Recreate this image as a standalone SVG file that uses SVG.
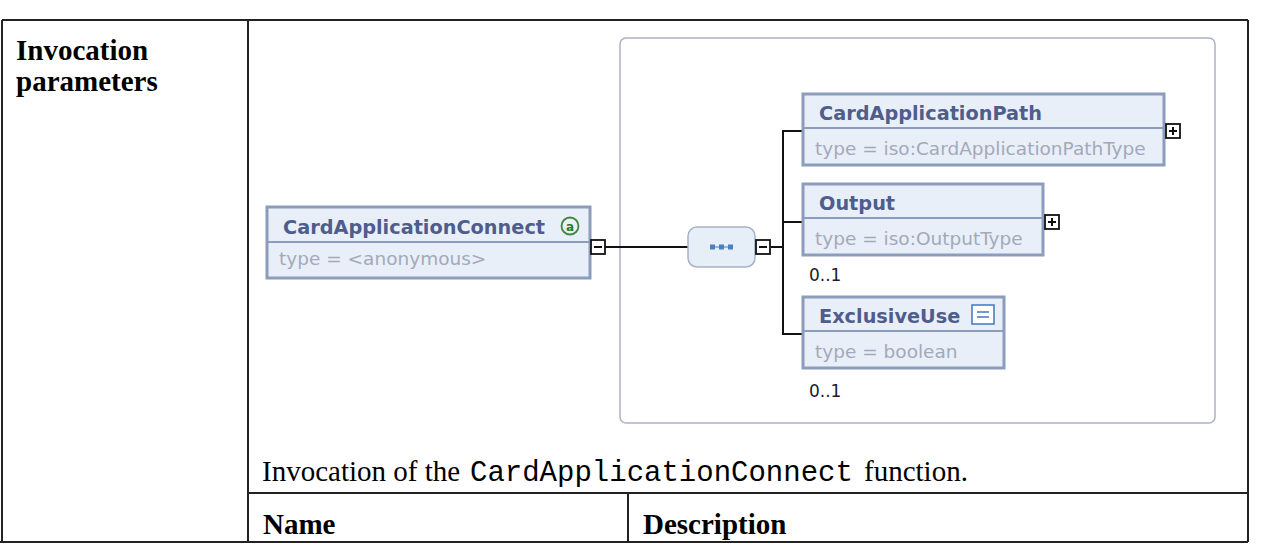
<svg xmlns="http://www.w3.org/2000/svg" width="1266" height="555" viewBox="0 0 1266 555">
<style>
.tl{stroke:#222;stroke-width:2;fill:none}
.hd{font-family:"Liberation Serif",serif;font-weight:bold;font-size:29px;fill:#000}
.tx{font-family:"Liberation Serif",serif;font-size:29px;fill:#000}
.mono{font-family:"Liberation Mono",monospace;font-size:29px;fill:#000}
.box{fill:#e9eff9;stroke:#8c9cbc;stroke-width:3}
.div{stroke:#8c9cbc;stroke-width:2}
.ttl{font-family:"DejaVu Sans",sans-serif;font-weight:bold;font-size:19.3px;fill:#4f5d8c}
.sub{font-family:"DejaVu Sans",sans-serif;font-size:18.5px;fill:#a3a9ba}
.occ{font-family:"DejaVu Sans",sans-serif;font-size:17px;fill:#1a1a2e}
.ln{stroke:#111;stroke-width:2;fill:none}
.pm{fill:#fff;stroke:#111;stroke-width:1.8}
</style>
<g id="table">
<line class="tl" x1="2" y1="20" x2="1248" y2="20"/>
<line class="tl" x1="2" y1="20" x2="2" y2="542"/>
<line class="tl" x1="248" y1="20" x2="248" y2="542"/>
<line class="tl" x1="1248" y1="20" x2="1248" y2="542"/>
<line class="tl" x1="248" y1="493" x2="1248" y2="493"/>
<line class="tl" x1="0" y1="542" x2="1248" y2="542"/>
<line class="tl" x1="628" y1="493" x2="628" y2="542"/>
<text class="hd" x="16" y="60">Invocation</text>
<text class="hd" x="16" y="91">parameters</text>
<text class="tx" x="262" y="481">Invocation of the</text>
<text class="mono" x="470" y="481">CardApplicationConnect</text>
<text class="tx" x="864" y="481">function.</text>
<text class="hd" x="263" y="534">Name</text>
<text class="hd" x="643" y="534">Description</text>
</g>
<g id="container">
<rect x="620" y="38" width="595" height="385" rx="6" fill="#fff" stroke="#aab2c8" stroke-width="1.5"/>
</g>
<g id="connectors">
<line class="ln" x1="605" y1="247" x2="688" y2="247"/>
<line class="ln" x1="771" y1="247" x2="783" y2="247"/>
<line class="ln" x1="783" y1="130" x2="783" y2="335"/>
<line class="ln" x1="783" y1="131" x2="803" y2="131"/>
<line class="ln" x1="783" y1="222" x2="803" y2="222"/>
<line class="ln" x1="783" y1="334" x2="803" y2="334"/>
</g>
<g id="node-CardApplicationConnect">
<rect class="box" x="267" y="207" width="323" height="71"/>
<line class="div" x1="268" y1="242" x2="589" y2="242"/>
<text class="ttl" x="283" y="234">CardApplicationConnect</text>
<circle cx="570" cy="226" r="8.5" fill="none" stroke="#3a8a3a" stroke-width="1.8"/>
<text x="570" y="231" text-anchor="middle" font-family="DejaVu Sans,sans-serif" font-size="12" font-weight="bold" fill="#2a7a2a">a</text>
<text class="sub" x="279" y="265">type = &lt;anonymous&gt;</text>
<rect class="pm" x="591" y="240" width="14" height="14"/>
<line class="ln" x1="594" y1="247" x2="602" y2="247"/>
</g>
<g id="node-sequence">
<rect x="688" y="227" width="67" height="40" rx="9" fill="#e6eef8" stroke="#a8b2c6" stroke-width="1.5"/>
<g fill="#4a80c0">
<rect x="710" y="244.5" width="5" height="5"/>
<rect x="719" y="244.5" width="5" height="5"/>
<rect x="728" y="244.5" width="5" height="5"/>
</g>
<line x1="715" y1="247" x2="728" y2="247" stroke="#4a80c0" stroke-width="1"/>
<rect class="pm" x="756" y="240" width="14" height="14"/>
<line class="ln" x1="759" y1="247" x2="767" y2="247"/>
</g>
<g id="node-CardApplicationPath">
<rect class="box" x="803" y="94" width="361" height="71"/>
<line class="div" x1="804" y1="128" x2="1163" y2="128"/>
<text class="ttl" x="819" y="120">CardApplicationPath</text>
<text class="sub" x="815" y="155">type = iso:CardApplicationPathType</text>
<rect class="pm" x="1166" y="124" width="14" height="14"/>
<line class="ln" x1="1169" y1="131" x2="1177" y2="131"/>
<line class="ln" x1="1173" y1="127" x2="1173" y2="135"/>
</g>
<g id="node-Output">
<rect class="box" x="803" y="184" width="240" height="71"/>
<line class="div" x1="804" y1="218" x2="1042" y2="218"/>
<text class="ttl" x="819" y="210">Output</text>
<text class="sub" x="815" y="245">type = iso:OutputType</text>
<rect class="pm" x="1045" y="215" width="14" height="14"/>
<line class="ln" x1="1048" y1="222" x2="1056" y2="222"/>
<line class="ln" x1="1052" y1="218" x2="1052" y2="226"/>
<text class="occ" x="809" y="281">0..1</text>
</g>
<g id="node-ExclusiveUse">
<rect class="box" x="803" y="297" width="201" height="71"/>
<line class="div" x1="804" y1="331" x2="1003" y2="331"/>
<text class="ttl" x="819" y="323">ExclusiveUse</text>
<rect x="972" y="305" width="22" height="19" fill="#fff" stroke="#4a80c0" stroke-width="1.6"/>
<line x1="977" y1="312" x2="989" y2="312" stroke="#4a80c0" stroke-width="1.6"/>
<line x1="977" y1="317" x2="989" y2="317" stroke="#4a80c0" stroke-width="1.6"/>
<text class="sub" x="815" y="358">type = boolean</text>
<text class="occ" x="809" y="397">0..1</text>
</g>
</svg>
